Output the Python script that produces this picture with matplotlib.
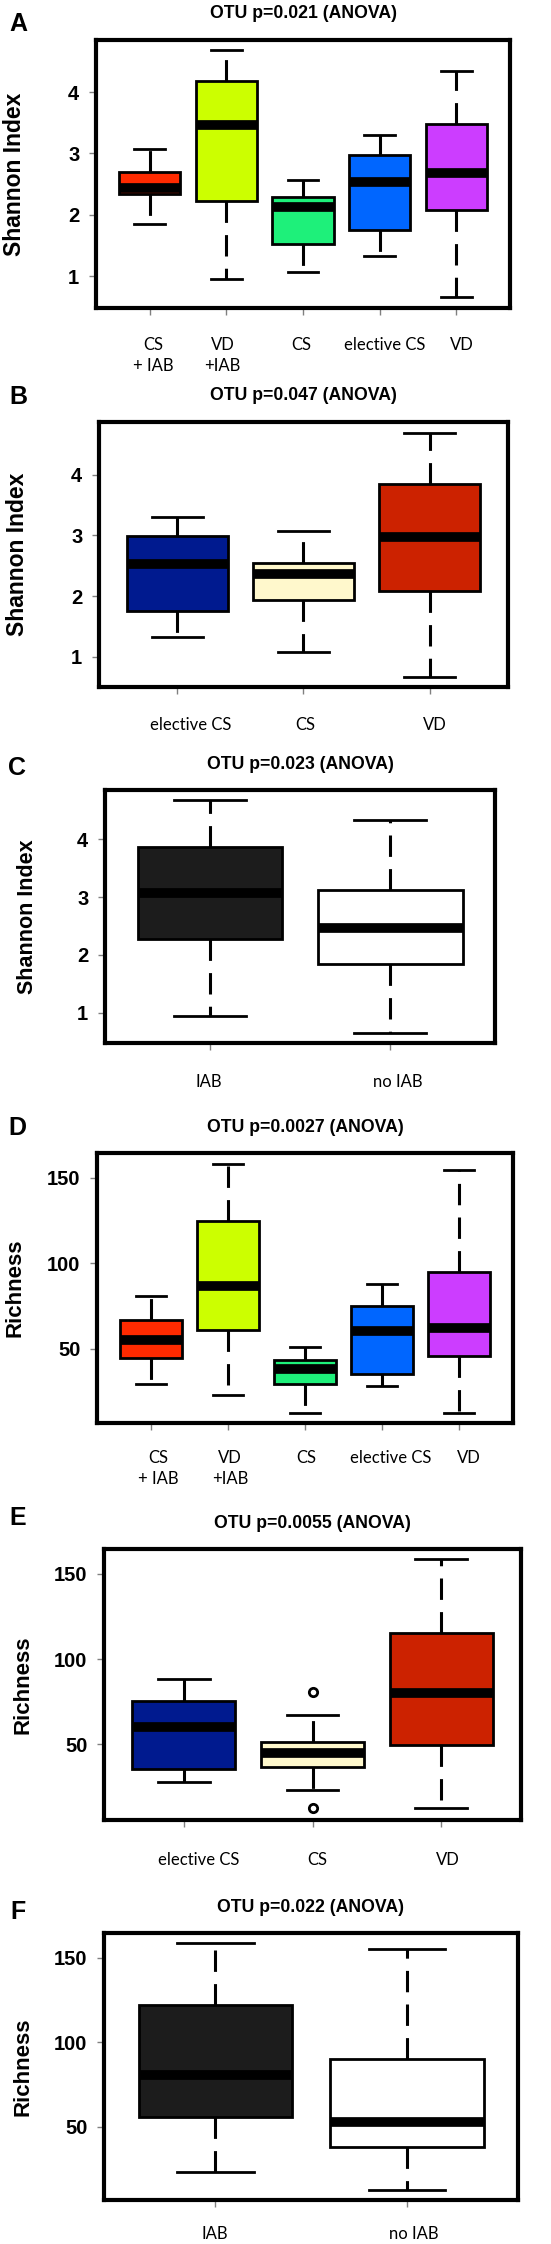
import matplotlib
matplotlib.use("Agg")
import matplotlib.pyplot as plt
from matplotlib.transforms import ScaledTranslation

# ---------------- data ----------------
groups_A = ["CS\n+ IAB", "VD\n+IAB", "CS", "elective CS", "VD"]
whislo_A = [1.85, 0.95, 1.07, 1.32, 0.66]
q1_A = [2.34, 2.23, 1.53, 1.75, 2.07]
med_A = [2.43, 3.46, 2.12, 2.54, 2.68]
q3_A = [2.70, 4.18, 2.29, 2.98, 3.48]
whishi_A = [3.07, 4.69, 2.57, 3.30, 4.34]

groups_B = ["elective CS", "CS", "VD"]
whislo_B = [1.32, 1.07, 0.66]
q1_B = [1.75, 1.93, 2.09]
med_B = [2.53, 2.36, 2.97]
q3_B = [2.99, 2.54, 3.84]
whishi_B = [3.30, 3.07, 4.69]

groups_C = ["IAB", "no IAB"]
whislo_C = [0.95, 0.65]
q1_C = [2.28, 1.85]
med_C = [3.08, 2.47]
q3_C = [3.87, 3.13]
whishi_C = [4.68, 4.34]

groups_D = ["CS\n+ IAB", "VD\n+IAB", "CS", "elective CS", "VD"]
whislo_D = [29.1, 23.0, 12.3, 28.0, 12.3]
q1_D = [44.5, 60.7, 29.5, 35.4, 45.9]
med_D = [54.9, 86.5, 38.1, 60.2, 62.1]
q3_D = [67.0, 125.0, 43.2, 74.8, 94.7]
whishi_D = [80.7, 158.2, 51.0, 88.1, 154.5]

groups_E = ["elective CS", "CS", "VD"]
whislo_E = [28.1, 23.2, 12.5]
q1_E = [35.5, 36.5, 49.6]
med_E = [60.4, 44.7, 79.9]
q3_E = [75.4, 51.4, 115.0]
whishi_E = [88.1, 67.0, 158.4]
fliers_E = [[], [80.9, 12.5], []]

groups_F = ["IAB", "no IAB"]
whislo_F = [23.2, 12.6]
q1_F = [55.5, 38.2]
med_F = [80.5, 53.0]
q3_F = [122.2, 89.8]
whishi_F = [158.7, 155.1]

titles = ["OTU p=0.021 (ANOVA)", "OTU p=0.047 (ANOVA)", "OTU p=0.023 (ANOVA)",
          "OTU p=0.0027 (ANOVA)", "OTU p=0.0055 (ANOVA)", "OTU p=0.022 (ANOVA)"]
letters = ["A", "B", "C", "D", "E", "F"]
ylabels = ["Shannon Index", "Shannon Index", "Shannon Index", "Richness", "Richness", "Richness"]
shannon_ticks = [1, 2, 3, 4]
richness_ticks = [50, 100, 150]

# ---------------- styling / layout ----------------
cols5 = ["#FF2A00", "#CCFF00", "#1EF07A", "#0066FF", "#CC3DFF"]
cols3 = ["#001A8F", "#FFF8CC", "#CC2200"]
cols2 = ["#1C1C1C", "#FFFFFF"]

W, H = 551, 2244
fig = plt.figure(figsize=(W / 100, H / 100), dpi=100)

BOLD = "Liberation Sans"
LAB = "Lato"

panels = [
    dict(g=groups_A, lo=whislo_A, q1=q1_A, med=med_A, q3=q3_A, hi=whishi_A, fl=None,
         cols=cols5, box=(96, 510, 40, 308), ylim=(0.48, 4.85), ticks=shannon_ticks,
         ty=13, let=(18, 24), ylx=15, yls=16.5, laby=340, off=[4, -4, -2, 5, 5]),
    dict(g=groups_B, lo=whislo_B, q1=q1_B, med=med_B, q3=q3_B, hi=whishi_B, fl=None,
         cols=cols3, box=(99, 508, 422, 687), ylim=(0.50, 4.87), ticks=shannon_ticks,
         ty=395, let=(18, 397), ylx=18, yls=16.5, laby=720, off=[13, 2, 5]),
    dict(g=groups_C, lo=whislo_C, q1=q1_C, med=med_C, q3=q3_C, hi=whishi_C, fl=None,
         cols=cols2, box=(105, 495, 790, 1043), ylim=(0.474, 4.855), ticks=shannon_ticks,
         ty=765, let=(17, 768), ylx=28, yls=15.5, laby=1077, off=[-1, 8]),
    dict(g=groups_D, lo=whislo_D, q1=q1_D, med=med_D, q3=q3_D, hi=whishi_D, fl=None,
         cols=cols5, box=(97, 513, 1153, 1423), ylim=(6.4, 164.6), ticks=richness_ticks,
         ty=1127, let=(17, 1128), ylx=15, yls=16, laby=1453, off=[7, 2, 1, 9, 10]),
    dict(g=groups_E, lo=whislo_E, q1=q1_E, med=med_E, q3=q3_E, hi=whishi_E, fl=fliers_E,
         cols=cols3, box=(104, 521, 1549, 1820), ylim=(5.7, 164.5), ticks=richness_ticks,
         ty=1523, let=(18, 1518), ylx=23, yls=16, laby=1855, off=[15, 5, 7]),
    dict(g=groups_F, lo=whislo_F, q1=q1_F, med=med_F, q3=q3_F, hi=whishi_F, fl=None,
         cols=cols2, box=(104, 518, 1933, 2200), ylim=(6.7, 164.6), ticks=richness_ticks,
         ty=1907, let=(18, 1912), ylx=23, yls=16, laby=2229, off=[0, 7]),
]

for i, p in enumerate(panels):
    l, r, t, b = p["box"]
    ax = fig.add_axes([l / W, 1 - b / H, (r - l) / W, (b - t) / H])
    n = len(p["g"])
    stats = []
    for k in range(n):
        stats.append(dict(med=p["med"][k], q1=p["q1"][k], q3=p["q3"][k],
                          whislo=p["lo"][k], whishi=p["hi"][k],
                          fliers=(p["fl"][k] if p["fl"] else [])))
    pos = list(range(1, n + 1))
    bp = ax.bxp(stats, positions=pos, widths=0.8, capwidths=0.4, patch_artist=True,
                showfliers=True,
                boxprops=dict(edgecolor="black", linewidth=2.0),
                medianprops=dict(color="black", linewidth=7, solid_capstyle="butt"),
                whiskerprops=dict(color="black", linewidth=2.2, linestyle=(0, (7, 4))),
                capprops=dict(color="black", linewidth=2.0),
                flierprops=dict(marker="o", markerfacecolor="white", markeredgecolor="black",
                                markersize=6, markeredgewidth=2.0))
    for patch, c in zip(bp["boxes"], p["cols"]):
        patch.set_facecolor(c)
    ax.set_xlim(0.5 - 0.04 * n, n + 0.5 + 0.04 * n)
    ax.set_ylim(*p["ylim"])
    for s in ax.spines.values():
        s.set_linewidth(3)
    ax.set_yticks(p["ticks"], labels=[str(v) for v in p["ticks"]],
                  fontweight="bold", fontfamily=BOLD, fontsize=14.5)
    ax.set_xticks(pos, labels=[""] * n)
    ax.tick_params(axis="both", length=5, width=1, color="#808080", direction="out")
    ax.tick_params(axis="y", pad=7)

    # x category labels
    for k, name in enumerate(p["g"]):
        dy = (b - p["laby"]) + 3
        tr = ax.get_xaxis_transform() + ScaledTranslation(p["off"][k] / 100, dy / 100,
                                                          fig.dpi_scale_trans)
        ax.text(pos[k], 0, name, transform=tr, ha="center", va="top",
                fontfamily=LAB, fontsize=12, linespacing=1.4, clip_on=False)

    # title, letter, ylabel
    fig.text(((l + r) / 2) / W, 1 - p["ty"] / H, titles[i], ha="center", va="center",
             fontweight="bold", fontfamily=BOLD, fontsize=12.7)
    fig.text(p["let"][0] / W, 1 - p["let"][1] / H, letters[i], ha="center", va="center",
             fontweight="bold", fontfamily=BOLD, fontsize=18)
    fig.text(p["ylx"] / W, 1 - ((t + b) / 2) / H, ylabels[i], ha="center", va="center",
             rotation=90, fontweight="bold", fontfamily=BOLD, fontsize=p["yls"])

fig.savefig("out.png", dpi=100, facecolor="white")
